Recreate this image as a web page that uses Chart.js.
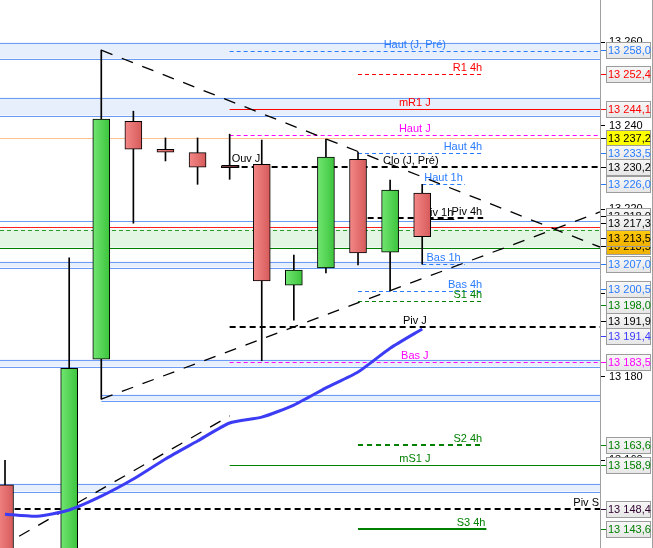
<!DOCTYPE html>
<html>
<head>
<meta charset="utf-8">
<script src="https://cdn.jsdelivr.net/npm/chart.js@4.4.1/dist/chart.umd.min.js"></script>
<style>
  html, body { margin: 0; padding: 0; background: #fff; overflow: hidden; }
  canvas { display: block; }
</style>
</head>
<body>
<canvas id="graphique" width="653" height="548"></canvas>
<script>
'use strict'

// bornes de l'axe des bougies (index) et des cours
const X0 = -0.156
const X1 = 18.54
const yMin = 13139.0
const yMax = 13270.1

// bougies
const candleIdx = [0, 2, 3, 4, 5, 6, 7, 8, 9, 10, 11, 12, 13]
const opens  = [13154.1, 13130.0, 13184.2, 13241.1, 13234.4, 13233.6, 13230.4, 13230.8, 13201.9, 13206.0, 13232.0, 13209.8, 13223.9]
const highs  = [13160.0, 13208.4, 13258.1, 13243.5, 13237.1, 13237.1, 13238.0, 13236.6, 13209.1, 13236.8, 13233.7, 13227.0, 13226.0]
const lows   = [13125.0, 13125.0, 13174.6, 13216.7, 13231.6, 13226.0, 13227.2, 13183.8, 13193.5, 13204.8, 13206.7, 13200.5, 13206.9]
const closes = [13130.0, 13182.0, 13241.6, 13234.4, 13233.7, 13230.1, 13230.0, 13202.9, 13205.5, 13232.5, 13209.6, 13224.6, 13213.5]

// moyenne mobile
const maIdx = [0, 1, 2, 3, 4, 5, 6, 7, 8, 9, 10, 11, 12, 13]
const maValues = [13147.1, 13146.6, 13148.1, 13151.4, 13155.5, 13160.3, 13164.6, 13168.9, 13170.3, 13173.2, 13177.3, 13181.1, 13186.8, 13191.4]

// lignes de tendance
const trendHautX = [3, X1]
const trendHautY = [13258.1, 13211.0]
const trendBasX = [3, X1]
const trendBasY = [13174.6, 13219.4]
const trendAncX = [X0, 7]
const trendAncY = [13139.2, 13170.6]

// niveaux horizontaux
const levelNames  = ['Haut (J, Pré)', 'R1 4h', 'mR1 J', 'Haut S', 'Haut J', 'Haut 4h', 'Clo (J, Pré)', 'Ouv J', 'Haut 1h', 'Piv 4h', 'Piv 1h', 'Niv A', 'Niv B', 'Bas 1h', 'Bas 4h', 'S1 4h', 'Piv J', 'Bas J', 'S2 4h', 'mS1 J', 'Piv S', 'S3 4h']
const levelValues = [13258.0, 13252.4, 13244.1, 13237.2, 13237.9, 13233.5, 13230.2, 13230.3, 13226.0, 13217.9, 13217.7, 13217.3, 13215.9, 13206.9, 13200.5, 13198.0, 13191.9, 13183.5, 13163.6, 13158.9, 13148.4, 13143.6]
const levelFrom   = [7, 11, 7, X0, 7, 11, 6.75, 6.75, 13, 11.3, 13, X0, X0, 13, 11, 11, 7, 7, 11, 7, 0.3, 11]
const levelTo     = [X1, 14.9, X1, X1, X1, 14.9, X1, 7.3, 14.33, 14.9, 14.0, X1, X1, 14.33, 14.9, 14.9, X1, X1, 14.9, X1, X1, 15.0]

// zones
const bandKind   = ['bleu', 'bleu', 'vert', 'bleu', 'bleu', 'bleu', 'bleu']
const bandTop    = [13260.0, 13247.0, 13215.3, 13207.7, 13184.2, 13175.8, 13154.5]
const bandBottom = [13256.2, 13242.6, 13210.9, 13206.3, 13182.5, 13174.4, 13152.6]
const bandFrom   = [X0, X0, X0, X0, X0, 3, X0]

// graduations et étiquettes de l'axe
const tickValues = [13260, 13240, 13220, 13200, 13180, 13160]
const boxValues = [13258.0, 13252.4, 13244.1, 13237.2, 13233.5, 13230.2, 13226.0, 13218.0, 13217.3, 13213.5, 13213.5, 13207.0, 13200.5, 13198.0, 13191.9, 13191.4, 13183.5, 13163.6, 13158.9, 13148.4, 13143.6]

const BLEU = '#2a7cff'
const ROUGE = '#ff0000'
const MAGENTA = '#ff00ff'
const VERT = '#008000'
const NOIR = '#000000'
const FONT = '"Liberation Sans", Arial, sans-serif'

const fmtPrix = (v, dec) => {
  const [ent, frac] = v.toFixed(dec).split('.')
  const e = ent.replace(/\B(?=(\d{3})+(?!\d))/g, ' ')
  return frac ? e + ',' + frac : e
}

const levelLook = {
  'Haut (J, Pré)': { color: BLEU, width: 1, dash: [4, 3], align: 'center' },
  'R1 4h': { color: ROUGE, width: 1, dash: [4, 3], align: 'right' },
  'mR1 J': { color: ROUGE, width: 1, dash: [], align: 'center' },
  'Haut S': { color: '#ffbf8f', width: 1, dash: [], label: false },
  'Haut J': { color: MAGENTA, width: 1, dash: [4, 3], align: 'center' },
  'Haut 4h': { color: BLEU, width: 1, dash: [4, 3], align: 'right' },
  'Clo (J, Pré)': { color: NOIR, width: 2, dash: [6, 4], align: 'center' },
  'Ouv J': { color: NOIR, width: 3, dash: [], align: 'left' },
  'Haut 1h': { color: BLEU, width: 1, dash: [4, 3], align: 'center' },
  'Piv 4h': { color: NOIR, width: 2, dash: [6, 4], align: 'right' },
  'Piv 1h': { color: NOIR, width: 1, dash: [], align: 'right' },
  'Niv A': { color: '#6a9cf5', width: 1, dash: [], label: false },
  'Niv B': { color: '#ff2020', width: 1, dash: [], label: false },
  'Bas 1h': { color: BLEU, width: 1, dash: [4, 3], align: 'center' },
  'Bas 4h': { color: BLEU, width: 1, dash: [4, 3], align: 'right' },
  'S1 4h': { color: VERT, width: 1, dash: [4, 3], align: 'right' },
  'Piv J': { color: NOIR, width: 2, dash: [6, 4], align: 'center' },
  'Bas J': { color: MAGENTA, width: 1, dash: [4, 3], align: 'center' },
  'S2 4h': { color: VERT, width: 2, dash: [5, 4], align: 'right' },
  'mS1 J': { color: VERT, width: 1, dash: [], align: 'center' },
  'Piv S': { color: NOIR, width: 2, dash: [6, 4], align: 'right' },
  'S3 4h': { color: VERT, width: 2, dash: [], align: 'right' }
}

const bandLook = {
  bleu: { fill: '#e7eefc', top: { color: '#6a9cf5', width: 1, dash: [] }, bottom: { color: '#6a9cf5', width: 1, dash: [] } },
  vert: { fill: '#e3f6e3', top: { color: '#2a9a2a', width: 1, dash: [4, 3] }, bottom: { color: VERT, width: 1, dash: [] } }
}

// couleur du texte, fond et décalage des étiquettes de droite (même ordre que boxValues)
const boxLook = [
  { c: BLEU, dy: -1 }, { c: ROUGE }, { c: ROUGE }, { c: NOIR, bg: 'jaune' }, { c: BLEU }, { c: NOIR }, { c: BLEU },
  { c: NOIR, dy: -2 }, { c: NOIR, dy: 2 }, { c: NOIR, bg: 'orange', dy: 9 }, { c: NOIR, bg: 'orange', dy: 1 },
  { c: BLEU }, { c: BLEU, dy: -2 }, { c: VERT, dy: 4 }, { c: NOIR, dy: -6 }, { c: '#3c3cff', dy: 7 },
  { c: MAGENTA }, { c: VERT }, { c: VERT }, { c: '#300030' }, { c: VERT }
]

const hline = (ctx, x0, x1, yy, st) => {
  ctx.beginPath()
  ctx.strokeStyle = st.color
  ctx.lineWidth = st.width
  ctx.setLineDash(st.dash || [])
  const py = st.width % 2 ? Math.round(yy) + 0.5 : Math.round(yy)
  ctx.moveTo(x0, py)
  ctx.lineTo(x1, py)
  ctx.stroke()
}

const niveauxPlugin = {
  id: 'niveaux',
  beforeDatasetsDraw(chart) {
    const { ctx, chartArea: a, scales: { x, y } } = chart
    ctx.save()
    ctx.beginPath()
    ctx.rect(a.left, a.top, a.width, a.height)
    ctx.clip()

    bandTop.forEach((t, i) => {
      const st = bandLook[bandKind[i]]
      const x0 = x.getPixelForValue(bandFrom[i])
      const x1 = x.getPixelForValue(X1)
      const y0 = Math.round(y.getPixelForValue(t)) + 0.5
      const y1 = Math.round(y.getPixelForValue(bandBottom[i])) + 0.5
      ctx.fillStyle = st.fill
      ctx.fillRect(x0, y0, x1 - x0, y1 - y0)
      hline(ctx, x0, x1, y0, st.top)
      hline(ctx, x0, x1, y1, st.bottom)
    })

    levelNames.forEach((n, i) => {
      const st = levelLook[n]
      hline(ctx, x.getPixelForValue(levelFrom[i]), x.getPixelForValue(levelTo[i]), y.getPixelForValue(levelValues[i]), st)
    })

    ctx.font = '11px ' + FONT
    ctx.textBaseline = 'alphabetic'
    levelNames.forEach((n, i) => {
      const st = levelLook[n]
      if (st.label === false) return
      const x0 = x.getPixelForValue(levelFrom[i])
      const x1 = x.getPixelForValue(levelTo[i])
      const yy = Math.round(y.getPixelForValue(levelValues[i])) - 3
      ctx.fillStyle = st.color
      if (st.align === 'center') {
        ctx.textAlign = 'center'
        ctx.fillText(n, (x0 + x1) / 2, yy)
      } else if (st.align === 'right') {
        ctx.textAlign = 'right'
        ctx.fillText(n, x1 - 1, yy)
      } else {
        ctx.textAlign = 'left'
        ctx.fillText(n, x0 + 10, yy - 1)
      }
    })
    ctx.restore()
  },
  afterDraw(chart) {
    const { ctx, scales: { y } } = chart
    ctx.save()
    ctx.setLineDash([])
    // bord droit
    ctx.strokeStyle = '#a0a0a0'
    ctx.lineWidth = 1
    ctx.beginPath()
    ctx.moveTo(652.5, 0)
    ctx.lineTo(652.5, 548)
    ctx.stroke()

    ctx.font = '11px ' + FONT
    ctx.textBaseline = 'middle'
    ctx.textAlign = 'left'
    boxValues.forEach((v, i) => {
      const look = boxLook[i]
      const cy = Math.round(y.getPixelForValue(v) + (look.dy || 0))
      const top = cy - 8
      let fill
      if (look.bg === 'jaune') {
        fill = '#ffff00'
      } else if (look.bg === 'orange') {
        fill = ctx.createLinearGradient(0, top, 0, top + 17)
        fill.addColorStop(0, '#ffcc10')
        fill.addColorStop(1, '#f0b000')
      } else {
        fill = ctx.createLinearGradient(0, top, 0, top + 17)
        fill.addColorStop(0, '#f8f8f8')
        fill.addColorStop(1, '#e6e6e6')
      }
      ctx.fillStyle = fill
      ctx.fillRect(606, top, 45, 17)
      ctx.strokeStyle = '#9c9c9c'
      ctx.strokeRect(606.5, top + 0.5, 44, 16)
      ctx.strokeStyle = look.c
      ctx.beginPath()
      ctx.moveTo(601, cy + 0.5)
      ctx.lineTo(606, cy + 0.5)
      ctx.stroke()
      ctx.fillStyle = look.c
      ctx.fillText(fmtPrix(v, 1), 608, cy + 1)
    })
    ctx.restore()
  }
}

const bodyFill = (c) => {
  const i = c.dataIndex
  const up = closes[i] >= opens[i]
  const light = up ? '#72e672' : '#f48888'
  const dark = up ? '#3cc43c' : '#d65a5a'
  const xs = c.chart.scales.x
  if (!xs || !c.raw) return dark
  const cx = xs.getPixelForValue(c.raw.x)
  if (!Number.isFinite(cx)) return dark
  const g = c.chart.ctx.createLinearGradient(cx - 8.5, 0, cx + 8.5, 0)
  g.addColorStop(0, light)
  g.addColorStop(1, dark)
  return g
}

const toPts = (xs, ys) => xs.map((v, i) => ({ x: v, y: ys[i] }))

const trendStyle = {
  type: 'line', borderColor: '#000', borderWidth: 1.3, borderDash: [12, 10],
  pointRadius: 0, fill: false, order: 4
}

new Chart(document.getElementById('graphique'), {
  type: 'bar',
  data: {
    datasets: [
      {
        type: 'line',
        data: toPts(maIdx, maValues),
        borderColor: '#3c3cf5',
        borderWidth: 3,
        pointRadius: 0,
        tension: 0.2,
        fill: false,
        order: 0
      },
      {
        data: candleIdx.map((v, i) => ({ x: v, y: [opens[i], closes[i]] })),
        backgroundColor: bodyFill,
        borderColor: '#000',
        borderWidth: 1,
        borderSkipped: false,
        barThickness: 17,
        grouped: false,
        order: 1
      },
      {
        data: candleIdx.map((v, i) => ({ x: v, y: [lows[i], highs[i]] })),
        backgroundColor: '#000',
        borderWidth: 0,
        barThickness: 1,
        grouped: false,
        order: 2
      },
      { ...trendStyle, data: toPts(trendHautX, trendHautY) },
      { ...trendStyle, data: toPts(trendBasX, trendBasY) },
      { ...trendStyle, data: toPts(trendAncX, trendAncY) }
    ]
  },
  options: {
    responsive: false,
    animation: false,
    layout: { padding: 0 },
    plugins: { legend: { display: false }, tooltip: { enabled: false } },
    scales: {
      x: { type: 'linear', min: X0, max: X1, display: false, offset: false },
      y: {
        position: 'right',
        min: yMin,
        max: yMax,
        afterBuildTicks(s) { s.ticks = tickValues.map(v => ({ value: v })) },
        afterFit(s) { s.width = 53; s.paddingTop = 0; s.paddingBottom = 0 },
        ticks: {
          callback: (v) => fmtPrix(v, 0),
          color: '#000',
          font: { size: 11, family: FONT },
          padding: 4
        },
        grid: { drawOnChartArea: false, drawTicks: true, tickLength: 5, color: '#000' },
        border: { display: true, color: '#a0a0a0' }
      }
    }
  },
  plugins: [niveauxPlugin]
})
</script>
</body>
</html>
